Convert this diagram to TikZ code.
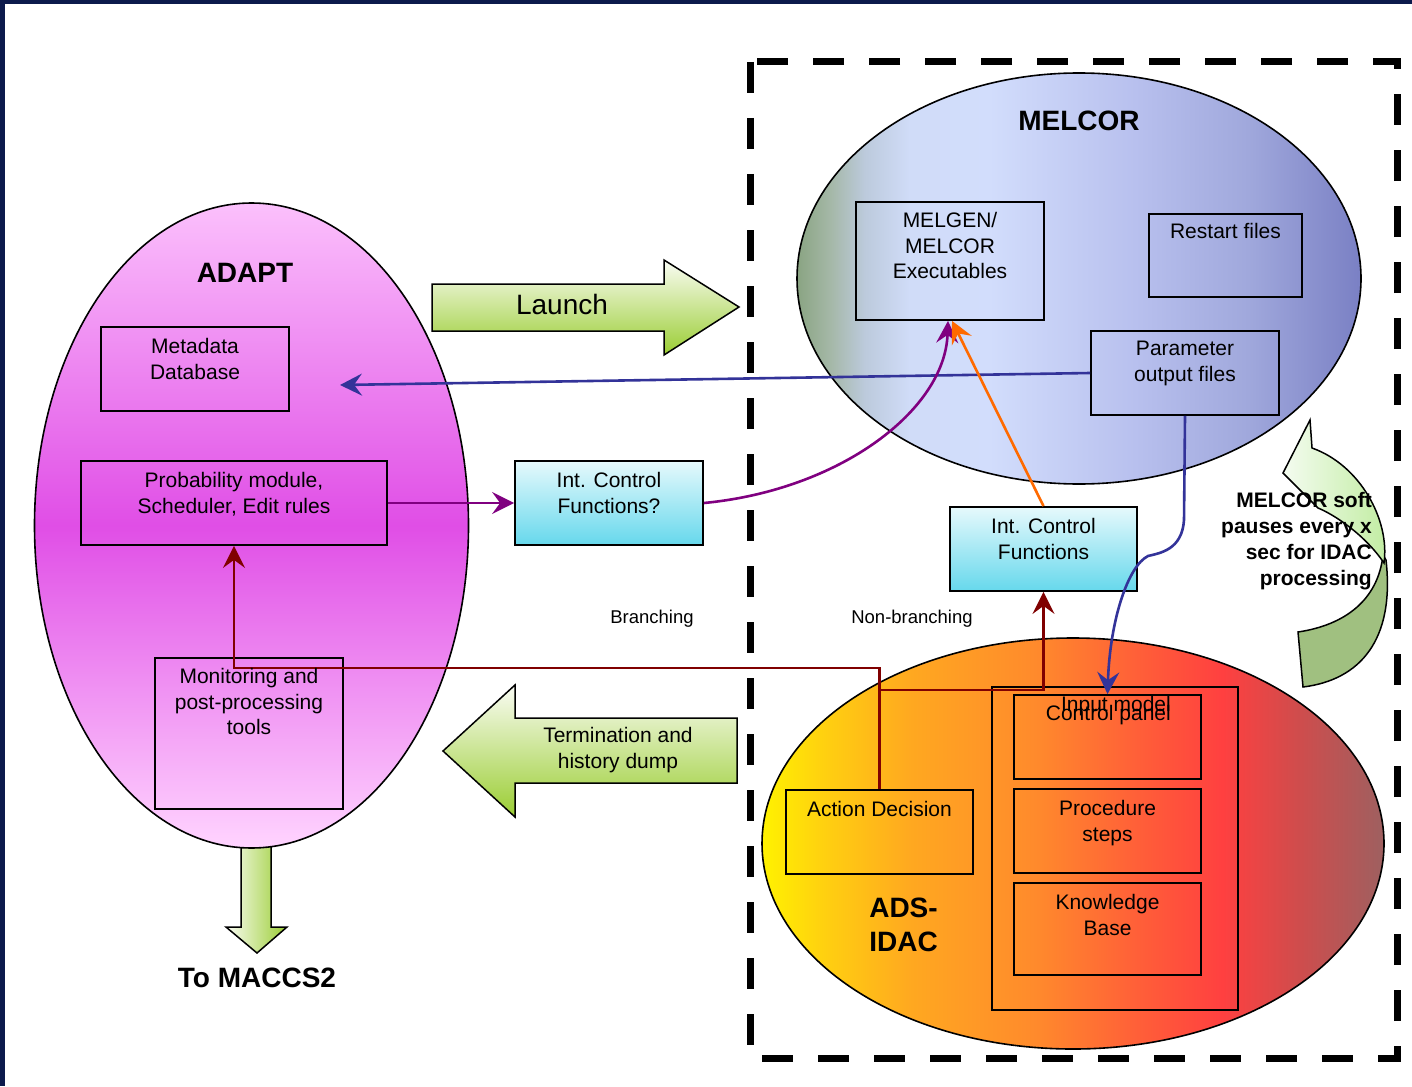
\documentclass[tikz,border=0pt]{standalone}
\usepackage{fontspec}
\setmainfont{Liberation Sans}
\usetikzlibrary{shapes.geometric,arrows.meta}
\definecolor{navy}{HTML}{0C1A4C}
\definecolor{mcA}{HTML}{8AA482}
\definecolor{mcB}{HTML}{A5B8A8}
\definecolor{mcC}{HTML}{BCCADC}
\definecolor{mcD}{HTML}{D0DCF8}
\definecolor{mcE}{HTML}{D2DDFC}
\definecolor{mcF}{HTML}{B8C0EE}
\definecolor{mcG}{HTML}{A0A8DC}
\definecolor{mcH}{HTML}{7A80C4}
\definecolor{adA}{HTML}{FFF200}
\definecolor{adB}{HTML}{FFD010}
\definecolor{adC}{HTML}{FFA820}
\definecolor{adD}{HTML}{FF8A2C}
\definecolor{adE}{HTML}{FF6038}
\definecolor{adF}{HTML}{FF4040}
\definecolor{adG}{HTML}{D04C4C}
\definecolor{adH}{HTML}{9E6060}
\definecolor{pkTop}{HTML}{FBC0FC}
\definecolor{pkMid}{HTML}{E04EE6}
\definecolor{pkBot}{HTML}{FFD4FF}
\definecolor{cyTop}{HTML}{E6F9FC}
\definecolor{cyBot}{HTML}{66D8EC}
\definecolor{gWhite}{HTML}{FAFCF4}
\definecolor{gGreen}{HTML}{9ACD32}
\definecolor{cvLight}{HTML}{F4FCF0}
\definecolor{cvGreen}{HTML}{C0ECA0}
\definecolor{cvDark}{HTML}{A0C080}
\definecolor{cvGray}{HTML}{D0D0D0}
\definecolor{blueC}{HTML}{333399}
\definecolor{purpleC}{HTML}{800080}
\definecolor{redC}{HTML}{800000}
\definecolor{orangeC}{HTML}{FF6A00}
\pgfdeclarehorizontalshading{melcorsh}{100bp}{color(0bp)=(mcA); color(25bp)=(mcA); color(28bp)=(mcB); color(31bp)=(mcC); color(35bp)=(mcD); color(42bp)=(mcE); color(55bp)=(mcF); color(65bp)=(mcG); color(75bp)=(mcH); color(100bp)=(mcH)}
\pgfdeclarehorizontalshading{adssh}{100bp}{color(0bp)=(adA); color(25bp)=(adA); color(30bp)=(adB); color(37bp)=(adC); color(47bp)=(adD); color(55bp)=(adE); color(62bp)=(adF); color(68bp)=(adG); color(75bp)=(adH); color(100bp)=(adH)}
\begin{document}
\begin{tikzpicture}[x=1pt,y=-1pt,
  box/.style={draw=black, line width=1.8pt, rectangle, inner sep=0pt},
  cyanbox/.style={box, top color=cyTop, bottom color=cyBot},
  btext/.style={anchor=north, inner sep=0pt, align=center, font=\fontsize{21}{25.5}\selectfont},
  bigt/.style={inner sep=0pt, align=center, font=\fontsize{28}{34}\selectfont\bfseries},
  smallt/.style={anchor=base, inner sep=0pt, font=\fontsize{18.5}{22}\selectfont},
  conn/.style={line width=2.6pt, -{Stealth[length=22pt,width=22pt,inset=8pt]}},
  fat/.style={draw=black, line width=1.5pt},
  ell/.style={ellipse, draw=black, line width=1.6pt, inner sep=0pt}]
\useasboundingbox (0,0) rectangle (1412,1086);
\fill[white] (0,0) rectangle (1412,1086);
\fill[navy] (0,0) rectangle (1412,4);
\fill[navy] (0,0) rectangle (5,1086);

% down arrow to MACCS2 (behind ADAPT ellipse)
\path[fat, left color=gWhite, right color=gGreen] (241,840) -- (271,840) -- (271,927) -- (287,927) -- (257,953) -- (226,927) -- (241,927) -- cycle;

% ellipses
\node[ell, minimum width=434pt, minimum height=645pt, top color=pkTop, bottom color=pkBot, middle color=pkMid] (adapt) at (251.5,525.5) {};
\node[ell, minimum width=564pt, minimum height=411pt, shade, shading=melcorsh] (melcor) at (1079,278.5) {};
\node[ell, minimum width=622pt, minimum height=411pt, shade, shading=adssh] (adsidac) at (1073,843.5) {};

% dashed frame
\draw[line width=7pt, dash pattern=on 31pt off 25pt] (750,62) rectangle (1397,1058);

% fat arrows
\path[fat, top color=gWhite, bottom color=gGreen] (432,284) -- (664,284) -- (664,260) -- (739,307) -- (664,355) -- (664,331) -- (432,331) -- cycle;
\path[fat, top color=gWhite, bottom color=gGreen] (443,751) -- (515,685) -- (515,718) -- (737,718) -- (737,783) -- (515,783) -- (515,817) -- cycle;

% curved arrow
\path[fat, left color=cvDark, middle color=cvGray, right color=cvDark] (1383,555) .. controls (1378,600) and (1345,625) .. (1298,632) -- (1303,687) .. controls (1360,680) and (1395,640) .. (1386,560) -- cycle;
\path[fat, left color=cvLight, right color=cvGreen] (1310,420) -- (1283,473) -- (1318,508) .. controls (1335,515) and (1365,535) .. (1384,563) .. controls (1390,520) and (1360,465) .. (1312,448) -- cycle;

% boxes
\node[box, minimum width=188pt, minimum height=84pt] (meta) at (195,369) {};
\node[box, minimum width=306pt, minimum height=84pt] (prob) at (234,503) {};
\node[box, minimum width=188pt, minimum height=151pt] (monit) at (249,733.5) {};
\node[box, minimum width=188pt, minimum height=118pt] (melgen) at (950,261) {};
\node[box, minimum width=153pt, minimum height=83pt] (restart) at (1225.5,255.5) {};
\node[box, minimum width=188pt, minimum height=84pt] (param) at (1185,373) {};
\node[cyanbox, minimum width=188pt, minimum height=84pt] (icq) at (609,503) {};
\node[cyanbox, minimum width=187pt, minimum height=84pt] (ic) at (1043.5,549) {};
\node[box, minimum width=246pt, minimum height=323pt] (outer) at (1115,848.5) {};
\node[box, minimum width=187pt, minimum height=84pt] (inputm) at (1107.5,737) {};
\node[box, minimum width=187pt, minimum height=84pt] (proc) at (1107.5,831) {};
\node[box, minimum width=187pt, minimum height=92pt] (know) at (1107.5,929) {};
\node[box, minimum width=187pt, minimum height=84pt] (action) at (879.5,832) {};

% connectors
\coordinate (metatip) at (340,385);
\draw[conn, blueC] (param.west) -- (metatip);
\draw[conn, purpleC] (prob.east) -- (icq.west);
\draw[conn, purpleC] (icq.east) .. controls (840,490) and (945,410) .. ([xshift=-2pt]melgen.south);
\draw[conn, orangeC] (ic.north) -- ([xshift=2pt]melgen.south);
\draw[conn, blueC] (param.south) -- (1184,520) .. controls (1182,550) and (1160,553) .. (1148,556) .. controls (1128,566) and (1110,620) .. (inputm.north);
\coordinate (j1) at (action.north |- 0,668);
\coordinate (j2) at (action.north |- 0,690);
\draw[conn, redC] (action.north) -- (j1) -| (prob.south);
\draw[conn, redC] (j2) -| (ic.south);

% box texts
\node[btext] (metat) at ([yshift=-12pt]meta.north) {Metadata\\Database};
\node[btext] (probt) at ([yshift=-12pt]prob.north) {Probability module,\\Scheduler, Edit rules};
\node[btext] (monitt) at ([yshift=-11pt]monit.north) {Monitoring and\\post-processing\\tools};
\node[btext] (melgent) at ([yshift=-11pt]melgen.north) {MELGEN/\\MELCOR\\Executables};
\node[btext] (restartt) at ([yshift=-10pt]restart.north) {Restart files};
\node[btext] (paramt) at ([yshift=-11pt]param.north) {Parameter\\output files};
\node[btext] (icqt) at ([yshift=-12pt]icq.north) {Int. Control\\Functions?};
\node[btext] (ict) at ([yshift=-12pt]ic.north) {Int. Control\\Functions};
\node[btext] (proct) at ([yshift=-12pt]proc.north) {Procedure\\steps};
\node[btext] (knowt) at ([yshift=-12pt]know.north) {Knowledge\\Base};
\node[btext] (actiont) at ([yshift=-12pt]action.north) {Action Decision};
\node[anchor=base east, inner sep=0pt, font=\fontsize{21}{25.5}\selectfont] (inputt) at (1171,711) {Input model};
\node[anchor=base east, inner sep=0pt, font=\fontsize{21}{25.5}\selectfont] (ctrlt) at (1171,720) {Control panel};

% big labels
\node[bigt] (adaptt) at (245,273) {ADAPT};
\node[bigt] (melcort) at (1079,121) {MELCOR};
\node[bigt, anchor=north] (adst) at (903.5,898) {ADS-\\IDAC};
\node[bigt] (maccst) at (257,978) {To MACCS2};
\node[inner sep=0pt, font=\fontsize{28}{34}\selectfont] (launcht) at (562,304) {Launch};
\node[btext] (termt) at (618,727.5) {Termination and\\history dump};
\node[smallt] (brt) at (652,623.6) {Branching};
\node[smallt] (nbrt) at (912,623.6) {Non-branching};
\node[anchor=north east, inner sep=0pt, align=right, font=\fontsize{21}{25.7}\selectfont\bfseries] (softt) at (1372,492.5) {MELCOR soft\\pauses every x\\sec for IDAC\\processing};
\end{tikzpicture}
\end{document}
